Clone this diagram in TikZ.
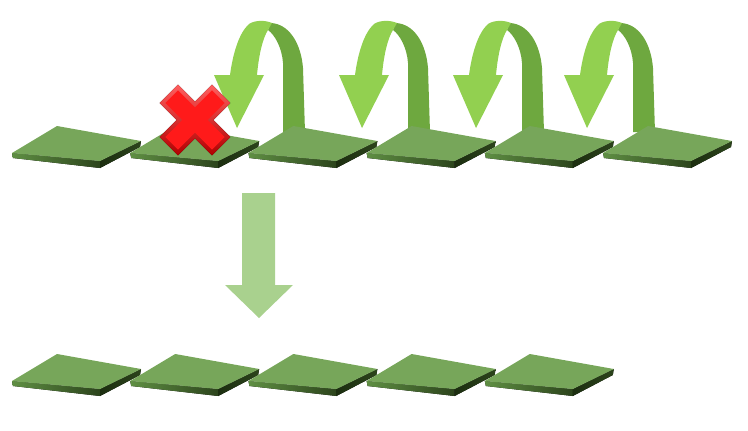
\documentclass[tikz,border=0pt]{standalone}
\usepackage{xcolor}

\definecolor{tiletopgreen}{HTML}{77A65A}
\definecolor{tileedgelight}{HTML}{5F8F43}
\definecolor{tileedgedark}{HTML}{2C441C}
\definecolor{tilerimdark}{HTML}{1C2E10}
\definecolor{turnfront}{HTML}{92D050}
\definecolor{turnback}{HTML}{6EA83F}
\definecolor{turnglow}{HTML}{C8EAB0}
\definecolor{movegreen}{HTML}{A9D18E}
\definecolor{crossred}{HTML}{FF1A1A}
\definecolor{crossdark}{HTML}{B00000}

\tikzset{
  tiletop/.style={fill=tiletopgreen},
  tileleft/.style={left color=tileedgelight, right color=tileedgedark},
  tileright/.style={left color=tilerimdark, right color=tileedgedark},
  turnstyle/.style={preaction={draw=turnglow, line width=0.13cm, line join=round}},
  movearrow/.style={fill=movegreen},
  crossedge/.style={top color=crossred!70!white, bottom color=crossdark},
  crossface/.style={fill=crossred},
  tile/.pic={
    \fill[tileleft] (0,0) -- (88,8) -- (88,15) -- (1,5) -- cycle;
    \fill[tileright] (88,8) -- (129,-12) -- (128,-6) -- (88,15) -- cycle;
    \fill[tiletop] (0,0) -- (45,-27) -- (129,-12) -- (88,8) -- cycle;
  },
  turn/.pic={
    % glow behind the whole arrow
    \begin{scope}[turnstyle]
      \path (34,-105) .. controls (52,-104) and (64,-85) .. (66,-60)
        -- (68,4) -- (46,4) -- (46,-65)
        .. controls (45,-80) and (38,-93) .. (31,-98) -- cycle;
      \path (-23,-53) -- (-7,-53) .. controls (-4,-75) and (2,-95) .. (12,-104)
        .. controls (18,-108) and (28,-108) .. (35,-105)
        -- (31,-98) .. controls (26,-90) and (22,-75) .. (20,-53)
        -- (27,-53) -- (0,0) -- cycle;
    \end{scope}
    % back half
    \fill[turnback] (34,-105) .. controls (52,-104) and (64,-85) .. (66,-60)
      -- (68,4) -- (46,4) -- (46,-65)
      .. controls (45,-80) and (38,-93) .. (31,-98) -- cycle;
    % front half with head
    \fill[turnfront] (-23,-53) -- (-7,-53) .. controls (-4,-75) and (2,-95) .. (12,-104)
      .. controls (18,-108) and (28,-108) .. (35,-105)
      -- (31,-98) .. controls (26,-90) and (22,-75) .. (20,-53)
      -- (27,-53) -- (0,0) -- cycle;
  },
}

\begin{document}
\begin{tikzpicture}[x=0.02cm,y=-0.02cm]
\useasboundingbox (0,0) rectangle (748,430);

% arrows turning back over the tiles
\foreach \tip in {237,362,476,587}
  \pic at (\tip,128) {turn};

% first row
\foreach \i in {0,...,5}
  \pic at ({12+118.2*\i},153) {tile};

% second row
\foreach \i in {0,...,4}
  \pic at ({12+118.2*\i},381) {tile};

% move down
\fill[movearrow] (242,193) -- (275,193) -- (275,285) -- (293,285)
  -- (259,318) -- (225,285) -- (242,285) -- cycle;

% cross on the second tile
\begin{scope}[shift={(195,120)},rotate=45]
  \fill[crossedge] (13,37) -- (13,13) -- (37,13) -- (37,-13) -- (13,-13) -- (13,-37)
    -- (-13,-37) -- (-13,-13) -- (-37,-13) -- (-37,13) -- (-13,13) -- (-13,37) -- cycle;
  \fill[crossface] (9,33) -- (9,9) -- (33,9) -- (33,-9) -- (9,-9) -- (9,-33)
    -- (-9,-33) -- (-9,-9) -- (-33,-9) -- (-33,9) -- (-9,9) -- (-9,33) -- cycle;
\end{scope}
\end{tikzpicture}
\end{document}
